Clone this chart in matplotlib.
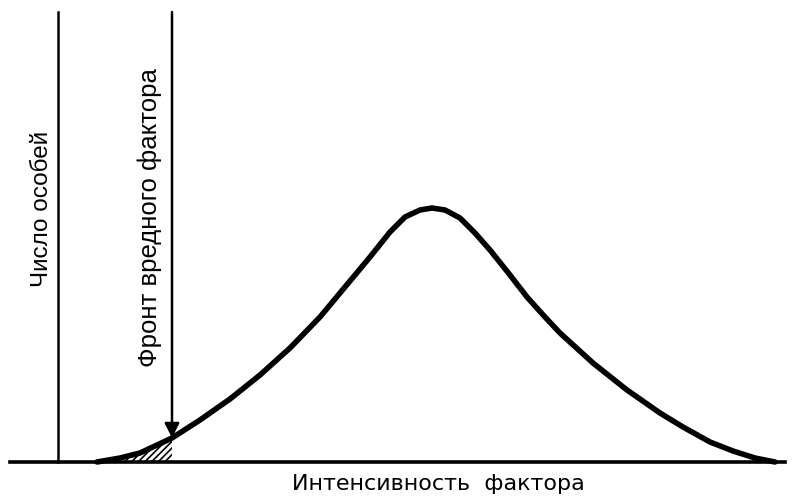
import matplotlib
matplotlib.use('Agg')
import matplotlib.pyplot as plt

# curve (intensity, number of individuals), arbitrary units
intensity = [97, 120, 140, 172, 200, 230, 260, 290, 320, 345, 370, 390, 405, 420,
             432, 445, 460, 475, 490, 510, 527, 545, 560, 593, 627, 660, 683, 710,
             733, 755, 775]
count = [0, 4, 9, 24, 42, 63, 87, 114, 145, 175, 205, 230, 245, 252,
         254, 252, 244, 229, 212, 187, 165, 145, 129, 99, 72, 49, 35, 20,
         11, 4, 0]

axis_x = 58
front_x = 172
axis_top = 450

y_label = 'Число особей'
front_label = 'Фронт вредного фактора'
x_label = 'Интенсивность  фактора'

plt.rcParams['font.family'] = ['Liberation Sans', 'DejaVu Sans']
plt.rcParams['hatch.linewidth'] = 1.2

fig = plt.figure(figsize=(7.95, 5.01), dpi=100)
ax = fig.add_axes([0, 0, 1, 1])
ax.set_xlim(0, 795)
ax.set_ylim(-39, 462)
ax.axis('off')

# baseline and vertical axis
ax.plot([10, 785], [0, 0], color='black', lw=2.6)
ax.plot([axis_x, axis_x], [0, axis_top], color='black', lw=1.8)

# bell curve
ax.plot(intensity, count, color='black', lw=4, solid_capstyle='round', solid_joinstyle='round')

# hatched part left of the front
hx = [x for x in intensity if x <= front_x]
hy = count[:len(hx)]
ax.fill_between(hx, hy, 0, facecolor='none', edgecolor='black', hatch='/////', lw=0)

# front line with arrow
ax.annotate('', xy=(front_x, count[intensity.index(front_x)]), xytext=(front_x, axis_top),
            arrowprops=dict(arrowstyle='-|>', lw=1.8, color='black', mutation_scale=22,
                            shrinkA=0, shrinkB=0))

ax.text(42, 462 - 209, y_label, rotation=90, ha='center', va='center', fontsize=17.5)
ax.text(150, 462 - 218, front_label, rotation=90, ha='center', va='center', fontsize=18.5)
ax.text(438, -22, x_label, ha='center', va='center', fontsize=16,
        family='DejaVu Sans')

fig.savefig('out.png', dpi=100)
